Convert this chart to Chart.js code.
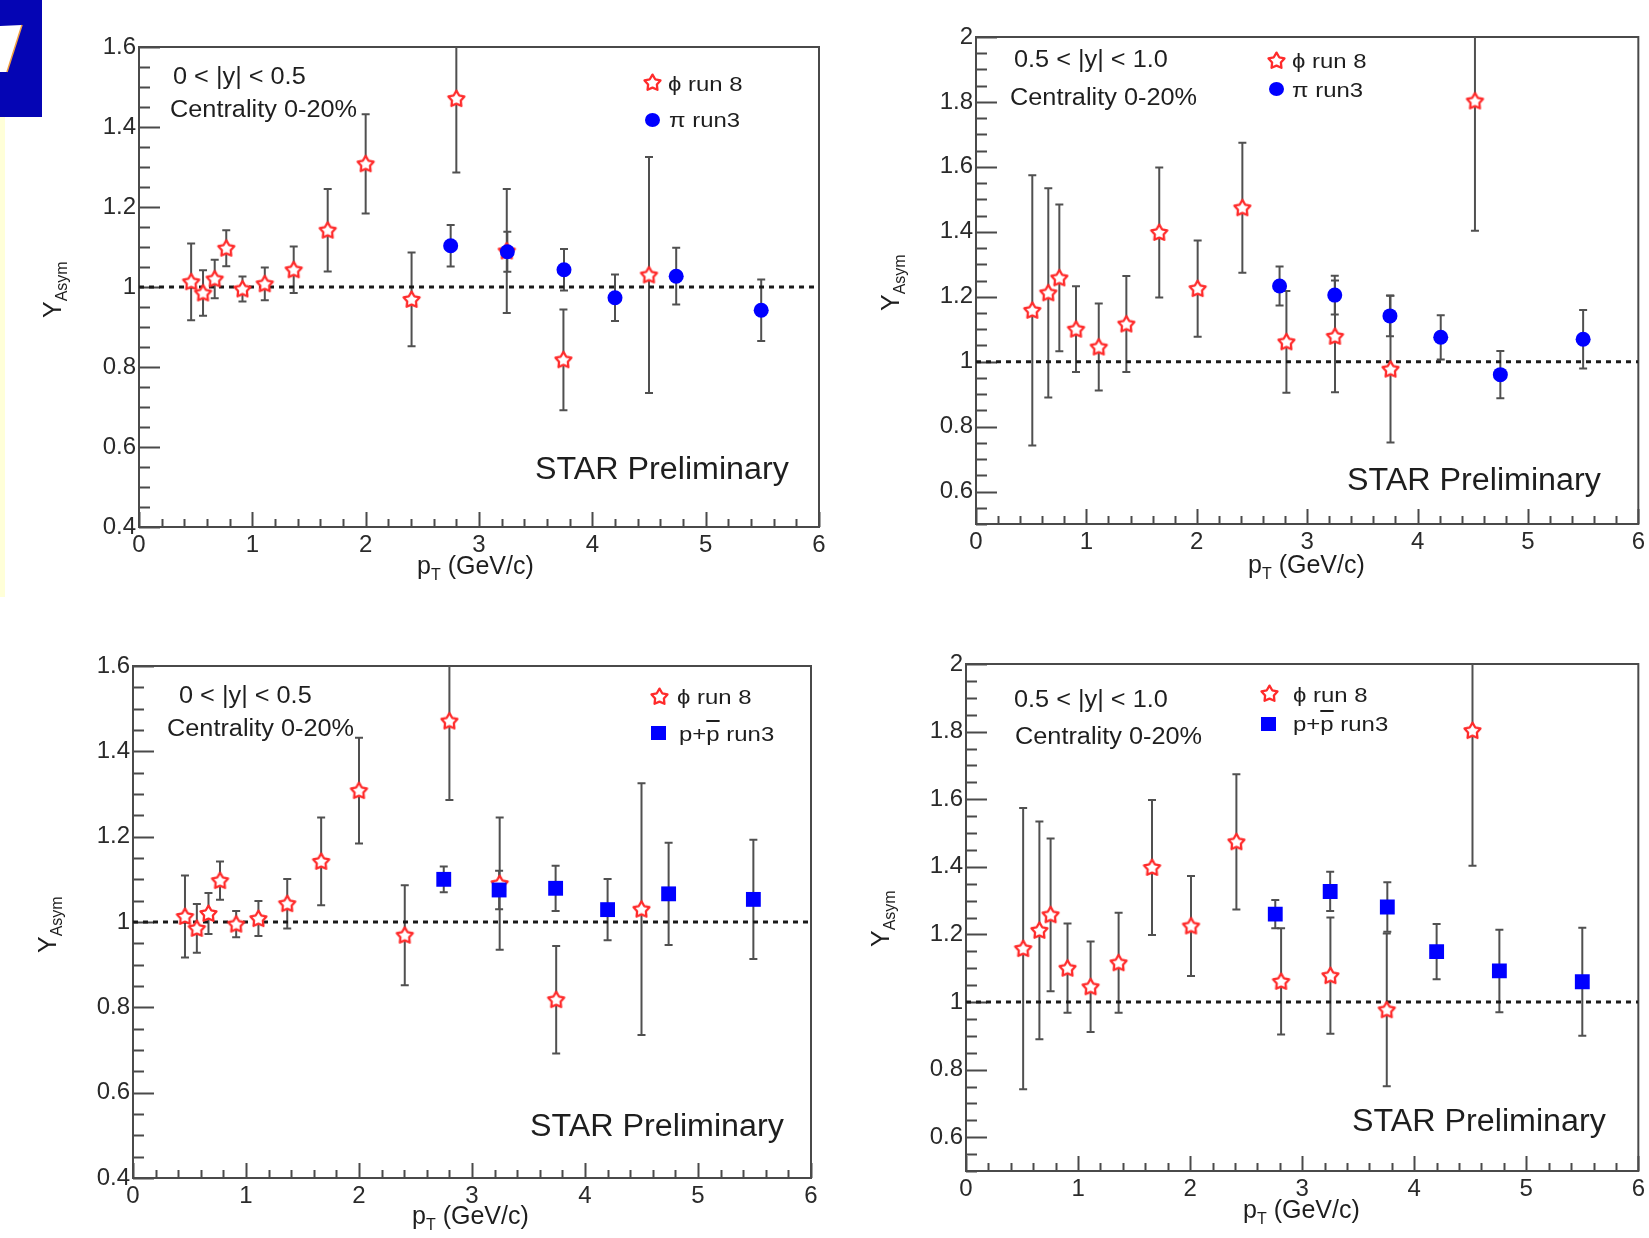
<!DOCTYPE html>
<html>
<head>
<meta charset="utf-8">
<script src="https://cdn.jsdelivr.net/npm/chart.js@4.4.0/dist/chart.umd.min.js"></script>
<style>
html,body{margin:0;padding:0;background:#fff;width:1649px;height:1238px;overflow:hidden;
  font-family:"Liberation Sans",Arial,Helvetica,sans-serif;}
canvas.cv{position:absolute;}
.t{position:absolute;white-space:nowrap;color:#1e1e1e;line-height:1;}
.a{font-size:23px;transform:scaleX(1.1);transform-origin:0 0;}
.lg{font-size:21px;transform:scaleX(1.14);transform-origin:0 0;}
.star{font-size:31px;transform:scaleX(1.04);transform-origin:0 0;}
.xt{font-size:25px;}
.yt{font-size:25px;transform:rotate(-90deg);transform-origin:0 0;}
sub{font-size:16px;vertical-align:-6px;line-height:1;}
.ob{text-decoration:overline;}
.mk{position:absolute;}
</style>
</head>
<body>
<div style="position:absolute;left:0;top:0;width:42px;height:117px;background:#0505b4;"></div>
<svg style="position:absolute;left:0;top:0" width="42" height="117">
  <polygon points="0,26 22,25 7,72 0,72" fill="#ffffff"/>
  <polyline points="22,25 7,72" stroke="#f0a040" stroke-width="1.5" fill="none"/>
</svg>
<div style="position:absolute;left:0;top:117px;width:5px;height:480px;background:#ffffd8;"></div>

<canvas id="c0" class="cv" width="830" height="600" style="left:0;top:0"></canvas>
<canvas id="c1" class="cv" width="819" height="600" style="left:830px;top:0"></canvas>
<canvas id="c2" class="cv" width="830" height="628" style="left:0;top:610px"></canvas>
<canvas id="c3" class="cv" width="819" height="628" style="left:830px;top:610px"></canvas>

<!-- panel 1 -->
<div class="t a" style="left:173px;top:65px">0 &lt; |y| &lt; 0.5</div>
<div class="t a" style="left:170px;top:98px">Centrality 0-20%</div>
<div class="t lg" style="left:668px;top:73px">ϕ run 8</div>
<div class="t lg" style="left:669px;top:109px">π run3</div>
<div class="t star" style="left:535px;top:453px">STAR Preliminary</div>
<div class="t xt" style="left:417px;top:553px">p<sub>T</sub> (GeV/c)</div>
<div class="t yt" style="left:40px;top:318px">Y<sub>Asym</sub></div>

<!-- panel 2 -->
<div class="t a" style="left:1014px;top:48px">0.5 &lt; |y| &lt; 1.0</div>
<div class="t a" style="left:1010px;top:86px">Centrality 0-20%</div>
<div class="t lg" style="left:1292px;top:50px">ϕ run 8</div>
<div class="t lg" style="left:1292px;top:79px">π run3</div>
<div class="t star" style="left:1347px;top:464px">STAR Preliminary</div>
<div class="t xt" style="left:1248px;top:552px">p<sub>T</sub> (GeV/c)</div>
<div class="t yt" style="left:878px;top:311px">Y<sub>Asym</sub></div>

<!-- panel 3 -->
<div class="t a" style="left:179px;top:684px">0 &lt; |y| &lt; 0.5</div>
<div class="t a" style="left:167px;top:717px">Centrality 0-20%</div>
<div class="t lg" style="left:677px;top:686px">ϕ run 8</div>
<div class="t lg" style="left:679px;top:723px">p+<span class="ob">p</span> run3</div>
<div class="t star" style="left:530px;top:1110px">STAR Preliminary</div>
<div class="t xt" style="left:412px;top:1203px">p<sub>T</sub> (GeV/c)</div>
<div class="t yt" style="left:35px;top:953px">Y<sub>Asym</sub></div>

<!-- panel 4 -->
<div class="t a" style="left:1014px;top:688px">0.5 &lt; |y| &lt; 1.0</div>
<div class="t a" style="left:1015px;top:725px">Centrality 0-20%</div>
<div class="t lg" style="left:1293px;top:684px">ϕ run 8</div>
<div class="t lg" style="left:1293px;top:713px">p+<span class="ob">p</span> run3</div>
<div class="t star" style="left:1352px;top:1105px">STAR Preliminary</div>
<div class="t xt" style="left:1243px;top:1197px">p<sub>T</sub> (GeV/c)</div>
<div class="t yt" style="left:868px;top:947px">Y<sub>Asym</sub></div>

<div id="marks"></div>

<script>
// ---------------- data ----------------
const xTicks = [0, 1, 2, 3, 4, 5, 6];
const xTickLabels = ['0', '1', '2', '3', '4', '5', '6'];
const yTicksMid = [0.4, 0.6, 0.8, 1, 1.2, 1.4, 1.6];
const yTickLabelsMid = ['0.4', '0.6', '0.8', '1', '1.2', '1.4', '1.6'];
const yTicksFwd = [0.6, 0.8, 1, 1.2, 1.4, 1.6, 1.8, 2];
const yTickLabelsFwd = ['0.6', '0.8', '1', '1.2', '1.4', '1.6', '1.8', '2'];

// phi run 8, 0 < |y| < 0.5
const phiPtMid  = [0.46, 0.565, 0.668, 0.77, 0.913, 1.11, 1.365, 1.665, 2.0, 2.405, 2.8, 3.245, 3.745, 4.5];
const phiYMid   = [1.013, 0.985, 1.02, 1.097, 0.995, 1.008, 1.043, 1.142, 1.308, 0.969, 1.471, 1.09, 0.818, 1.03];
const phiErrMid = [0.096, 0.057, 0.048, 0.045, 0.031, 0.041, 0.058, 0.103, 0.124, 0.117, 0.185, 0.155, 0.126, 0.295];

// phi run 8, 0.5 < |y| < 1.0
const phiPtFwd  = [0.51, 0.655, 0.755, 0.906, 1.112, 1.362, 1.66, 2.008, 2.413, 2.812, 3.252, 3.755, 4.52];
const phiYFwd   = [1.158, 1.212, 1.258, 1.1, 1.045, 1.116, 1.398, 1.225, 1.474, 1.061, 1.078, 0.977, 1.803];
const phiErrFwd = [0.416, 0.322, 0.226, 0.132, 0.134, 0.148, 0.2, 0.148, 0.2, 0.157, 0.172, 0.226, 0.4];

// pi run3
const piPtMid  = [2.75, 3.25, 3.75, 4.2, 4.74, 5.49];
const piYMid   = [1.103, 1.088, 1.043, 0.973, 1.027, 0.942];
const piErrMid = [0.052, 0.05, 0.052, 0.058, 0.071, 0.077];
const piPtFwd  = [2.75, 3.25, 3.75, 4.21, 4.75, 5.5];
const piYFwd   = [1.233, 1.205, 1.141, 1.075, 0.96, 1.069];
const piErrFwd = [0.06, 0.06, 0.063, 0.068, 0.073, 0.09];

// p + pbar run3
const pPtMid  = [2.75, 3.24, 3.74, 4.2, 4.74, 5.49];
const pYMid   = [1.1, 1.075, 1.079, 1.029, 1.066, 1.053];
const pErrMid = [0.03, 0.045, 0.053, 0.072, 0.12, 0.14];
const pPtFwd  = [2.76, 3.25, 3.76, 4.2, 4.76, 5.5];
const pYFwd   = [1.26, 1.327, 1.281, 1.149, 1.092, 1.06];
const pErrFwd = [0.042, 0.058, 0.073, 0.082, 0.122, 0.16];

// reference line Y = 1
const refX = [0, 6];
const refY = [1, 1];

// ---------------- style ----------------
const FONT = '"Liberation Sans", Arial, Helvetica, sans-serif';
const AXIS_COL = '#4a4a4a';

function makeStar() {
  const c = document.createElement('canvas');
  c.width = 21; c.height = 21;
  const g = c.getContext('2d');
  const cx = 10.5, cy = 11, R = 8.4, r = 4.6;
  g.beginPath();
  for (let i = 0; i < 10; i++) {
    const ang = -Math.PI / 2 + i * Math.PI / 5;
    const rad = (i % 2) ? r : R;
    g.lineTo(cx + rad * Math.cos(ang), cy + rad * Math.sin(ang));
  }
  g.closePath();
  g.fillStyle = '#ffffff';
  g.fill();
  g.strokeStyle = '#ff2b2b';
  g.lineWidth = 2.3;
  g.lineJoin = 'round';
  g.stroke();
  return c;
}
const STAR = makeStar();

const pts = (xs, ys) => xs.map((x, i) => ({ x: x, y: ys[i] }));

const rootPlugin = {
  id: 'rootStyle',
  beforeDatasetsDraw(chart) {
    const { ctx, chartArea: a, scales: { x, y } } = chart;
    const o = chart.options.plugins.rootStyle;
    ctx.save();
    // frame
    ctx.strokeStyle = AXIS_COL;
    ctx.lineWidth = 2;
    ctx.strokeRect(a.left, a.top, a.right - a.left, a.bottom - a.top);
    // inward ticks
    ctx.beginPath();
    const yn0 = Math.ceil(y.min / o.yMinor - 1e-6), yn1 = Math.floor(y.max / o.yMinor + 1e-6);
    for (let n = yn0; n <= yn1; n++) {
      const v = n * o.yMinor;
      const q = v / o.yMajor;
      const major = Math.abs(q - Math.round(q)) < 1e-6;
      const py = Math.round(y.getPixelForValue(v)) + 0.5;
      ctx.moveTo(a.left, py);
      ctx.lineTo(a.left + (major ? 21 : 11), py);
    }
    const xn0 = Math.ceil(x.min / o.xMinor - 1e-6), xn1 = Math.floor(x.max / o.xMinor + 1e-6);
    for (let n = xn0; n <= xn1; n++) {
      const v = n * o.xMinor;
      const q = v / o.xMajor;
      const major = Math.abs(q - Math.round(q)) < 1e-6;
      const px = Math.round(x.getPixelForValue(v)) + 0.5;
      ctx.moveTo(px, a.bottom);
      ctx.lineTo(px, a.bottom - (major ? 15 : 8));
    }
    ctx.stroke();
    // error bars
    ctx.beginPath();
    ctx.rect(a.left, a.top, a.right - a.left, a.bottom - a.top);
    ctx.clip();
    ctx.strokeStyle = '#505050';
    ctx.lineWidth = 2;
    chart.data.datasets.forEach(ds => {
      if (!ds.err) return;
      ds.data.forEach((p, j) => {
        const px = x.getPixelForValue(p.x);
        const yt = y.getPixelForValue(p.y + ds.err[j]);
        const yb = y.getPixelForValue(p.y - ds.err[j]);
        ctx.beginPath();
        ctx.moveTo(px, yt); ctx.lineTo(px, yb);
        ctx.moveTo(px - 4, yt); ctx.lineTo(px + 4, yt);
        ctx.moveTo(px - 4, yb); ctx.lineTo(px + 4, yb);
        ctx.stroke();
      });
    });
    ctx.restore();
  }
};

const panels = [
  { id: 'c0', pad: { left: 79, top: 47, right: 11, bottom: 28 }, yMin: 0.4, yMax: 1.6,
    yT: yTicksMid, yL: yTickLabelsMid,
    phi: [phiPtMid, phiYMid, phiErrMid], other: [piPtMid, piYMid, piErrMid], kind: 'circle' },
  { id: 'c1', pad: { left: 86, top: 37, right: 9, bottom: 31 }, yMin: 0.5, yMax: 2.0,
    yT: yTicksFwd, yL: yTickLabelsFwd,
    phi: [phiPtFwd, phiYFwd, phiErrFwd], other: [piPtFwd, piYFwd, piErrFwd], kind: 'circle' },
  { id: 'c2', pad: { left: 73, top: 56, right: 19, bottom: 15 }, yMin: 0.4, yMax: 1.6,
    yT: yTicksMid, yL: yTickLabelsMid,
    phi: [phiPtMid, phiYMid, phiErrMid], other: [pPtMid, pYMid, pErrMid], kind: 'rect' },
  { id: 'c3', pad: { left: 76, top: 54, right: 9, bottom: 22 }, yMin: 0.5, yMax: 2.0,
    yT: yTicksFwd, yL: yTickLabelsFwd,
    phi: [phiPtFwd, phiYFwd, phiErrFwd], other: [pPtFwd, pYFwd, pErrFwd], kind: 'rect' }
];

panels.forEach(P => {
  const ctx = document.getElementById(P.id).getContext('2d');
  new Chart(ctx, {
    type: 'scatter',
    data: {
      datasets: [
        { label: 'ref', data: pts(refX, refY), showLine: true, borderColor: '#1a1a1a',
          borderWidth: 3, borderDash: [5, 5], pointRadius: 0, order: 10 },
        { label: 'phi run 8', data: pts(P.phi[0], P.phi[1]), err: P.phi[2],
          pointStyle: STAR, pointRadius: 9, order: 5 },
        { label: P.kind === 'circle' ? 'pi run3' : 'p+pbar run3', data: pts(P.other[0], P.other[1]), err: P.other[2],
          pointStyle: P.kind, pointRadius: P.kind === 'circle' ? 7.5 : 10.5,
          backgroundColor: '#0000ff', borderColor: '#0000ff', borderWidth: 0, order: 1 }
      ]
    },
    options: {
      responsive: false,
      animation: false,
      events: [],
      layout: { padding: P.pad },
      plugins: {
        legend: { display: false },
        tooltip: { enabled: false },
        rootStyle: { yMinor: 0.05, yMajor: 0.2, xMinor: 0.2, xMajor: 1 }
      },
      scales: {
        x: {
          type: 'linear', position: 'bottom', min: 0, max: 6,
          afterBuildTicks: s => { s.ticks = xTicks.map(v => ({ value: v })); },
          afterFit: s => { s.height = 45; },
          grid: { display: false, drawTicks: false },
          border: { display: false },
          ticks: { autoSkip: false, maxRotation: 0, padding: 4, color: '#2a2a2a',
                   font: { family: FONT, size: 24 },
                   callback: (v, i) => xTickLabels[i] }
        },
        y: {
          type: 'linear', position: 'left', min: P.yMin, max: P.yMax,
          afterBuildTicks: s => { s.ticks = P.yT.map(v => ({ value: v })); },
          afterFit: s => { s.width = 60; },
          grid: { display: false, drawTicks: false },
          border: { display: false },
          ticks: { autoSkip: false, padding: 3, color: '#2a2a2a',
                   font: { family: FONT, size: 24 },
                   callback: (v, i) => P.yL[i] }
        }
      }
    },
    plugins: [rootPlugin]
  });
});

// legend markers
const marks = document.getElementById('marks');
const starURL = STAR.toDataURL();
function addStar(cx, cy) {
  const im = document.createElement('img');
  im.src = starURL; im.className = 'mk';
  im.style.left = (cx - 10.5) + 'px'; im.style.top = (cy - 11) + 'px';
  marks.appendChild(im);
}
function addBox(cx, cy, w, h, round) {
  const d = document.createElement('div');
  d.className = 'mk';
  d.style.cssText += `left:${cx - w / 2}px;top:${cy - h / 2}px;width:${w}px;height:${h}px;background:#0000ff;` + (round ? 'border-radius:50%;' : '');
  marks.appendChild(d);
}
addStar(652, 83);  addBox(652, 120, 15, 14, true);
addStar(1276, 61); addBox(1276, 89, 15, 14, true);
addStar(659, 697); addBox(658, 733, 15, 14, false);
addStar(1269, 694); addBox(1268, 724, 15, 14, false);
</script>
</body>
</html>
